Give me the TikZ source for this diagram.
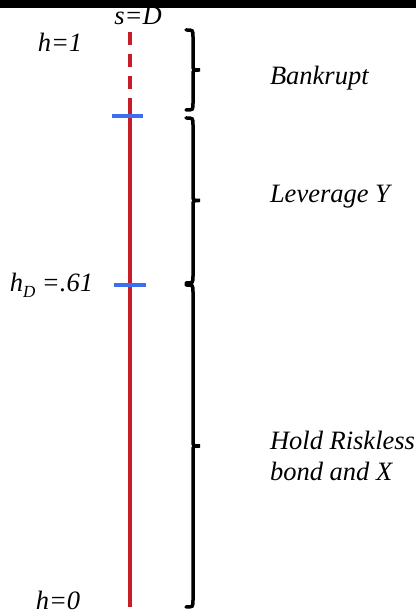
\documentclass[tikz,border=0pt]{standalone}
\usepackage{fontspec}
\setmainfont{Liberation Serif}
\definecolor{axisred}{RGB}{200,28,40}
\definecolor{tickblue}{RGB}{60,110,240}

\begin{document}
\begin{tikzpicture}[x=1pt, y=1pt, line width=4pt,
  lbl/.style={font=\fontsize{26.5}{31}\selectfont\itshape, inner sep=0pt},
  bracket/.style={black, line width=3.5pt, line cap=round}]
  \useasboundingbox (0,0) rectangle (416,616);
  \fill[black] (0,608) rectangle (416,616);
  % the state axis
  \coordinate (top) at (130,584);
  \coordinate (dend) at (130,518);
  \coordinate (bot) at (130,9);
  \draw[axisred, dash pattern=on 13pt off 9pt] (top) -- (dend);
  \draw[axisred] (dend) -- (bot);
  % thresholds
  \draw[tickblue] (112,500) coordinate (one) -- (143,500);
  \draw[tickblue] (114,331) coordinate (hd) -- (146,331);
  % regions
  \foreach \t/\b in {586/506, 498/333, 331/9}{
    \pgfmathsetmacro{\m}{(\t+\b)/2}
    \draw[bracket] (186,\t) .. controls (193,\t) .. (193,\t-7) -- (193,\m+5)
      .. controls (193,\m) .. (200,\m) .. controls (193,\m) .. (193,\m-5)
      -- (193,\b+7) .. controls (193,\b) .. (186,\b);}
  % labels
  \node[lbl] (sD) at (138,600) {s=D};
  \node[lbl] (h1) at (60,574) {h=1};
  \node[lbl, left] (hD) at (95,331) {h\raisebox{-6pt}{\fontsize{17}{17}\selectfont D} =.61};
  \node[lbl] (h0) at (58,16) {h=0};
  \node[lbl, right] (bank) at (268,538) {Bankrupt};
  \node[lbl, right] (lev) at (268,419) {Leverage Y};
  \node[lbl, right, align=left] (hold) at (268,160) {Hold Riskless\\bond and X};
\end{tikzpicture}
\end{document}
